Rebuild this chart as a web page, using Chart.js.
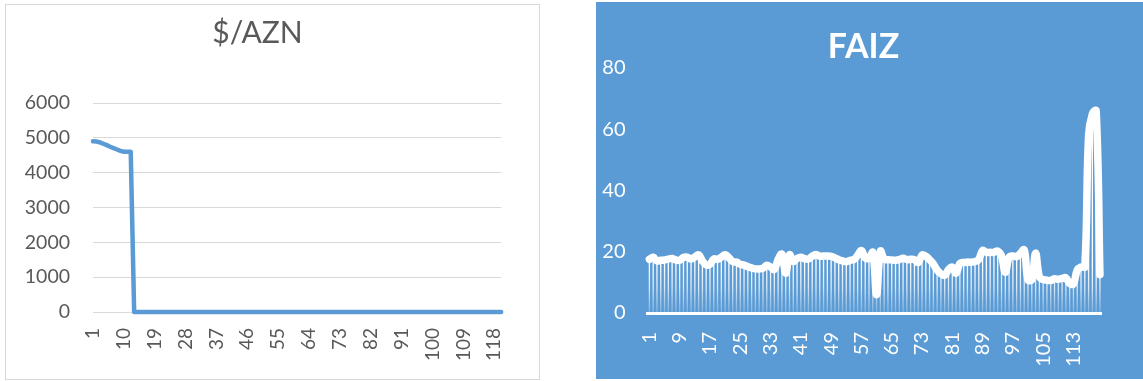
<!DOCTYPE html>
<html>
<head>
<meta charset="utf-8">
<title>$/AZN və FAIZ</title>
<script src="https://cdn.jsdelivr.net/npm/chart.js"></script>
<style>
    body { margin: 0; background: #ffffff; width: 1143px; height: 381px; position: relative; overflow: hidden; }
    .frame { position: absolute; left: 5px; top: 4px; width: 535px; height: 376px; border: 1px solid #d9d9d9; box-sizing: border-box; }
    #aznBox { position: absolute; left: 5px; top: 4px; width: 535px; height: 376px; }
    #faizBox { position: absolute; left: 596px; top: 2px; width: 547px; height: 377px; background: #5b9bd5; }
</style>
</head>
<body>
<div class="frame"></div>
<div id="aznBox"><canvas id="aznChart"></canvas></div>
<div id="faizBox"><canvas id="faizChart"></canvas></div>
<script>
// 1..120 sıra nömrələri
const periods = Array.from({ length: 120 }, (_, i) => String(i + 1));

// dollar məzənnəsi (ilk 12 ay köhnə manatla)
const azn = [
    4900, 4895, 4870, 4830, 4790, 4745, 4705, 4665, 4625, 4600, 4600, 4600,
    0.918, 0.916, 0.912, 0.906, 0.902, 0.898, 0.893, 0.889, 0.885, 0.880, 0.876, 0.871,
    0.870, 0.868, 0.866, 0.864, 0.862, 0.860, 0.858, 0.855, 0.852, 0.850, 0.848, 0.845,
    0.843, 0.838, 0.830, 0.822, 0.815, 0.810, 0.808, 0.806, 0.804, 0.802, 0.801, 0.800,
    0.803, 0.804, 0.804, 0.804, 0.804, 0.804, 0.804, 0.804, 0.804, 0.804, 0.803, 0.803,
    0.803, 0.803, 0.802, 0.802, 0.802, 0.802, 0.801, 0.801, 0.800, 0.799, 0.798, 0.797,
    0.796, 0.795, 0.793, 0.791, 0.789, 0.788, 0.787, 0.786, 0.786, 0.786, 0.786, 0.786,
    0.786, 0.786, 0.786, 0.786, 0.785, 0.785, 0.785, 0.785, 0.785, 0.785, 0.785, 0.785,
    0.785, 0.785, 0.785, 0.784, 0.784, 0.784, 0.784, 0.784, 0.784, 0.784, 0.784, 0.784,
    0.784, 0.784, 0.784, 0.784, 0.784, 0.784, 0.784, 0.784, 0.784, 0.784, 0.784, 0.784
];

// faiz dərəcəsi
const faiz = [
    17.5, 18.2, 17.0, 17.2, 17.3, 17.6, 17.8, 17.3, 17.2, 18.1,
    18.2, 17.6, 18.3, 19.0, 17.0, 15.7, 15.9, 17.6, 17.5, 18.2,
    19.0, 18.0, 16.8, 16.6, 15.9, 15.6, 15.1, 14.7, 14.4, 14.4,
    14.6, 15.6, 15.0, 14.2, 17.5, 19.2, 13.0, 19.0, 16.8, 17.8,
    18.2, 17.7, 17.6, 18.5, 19.1, 18.5, 18.6, 18.6, 18.5, 18.0,
    17.4, 17.0, 16.7, 17.2, 17.4, 18.8, 20.4, 18.0, 17.8, 19.8,
    6.0, 20.2, 17.6, 17.4, 17.3, 17.2, 17.4, 17.9, 17.4, 17.5,
    17.4, 16.5, 18.9, 18.5, 17.4, 16.0, 14.0, 12.8, 12.3, 14.2,
    15.0, 13.0, 16.2, 16.5, 16.6, 16.6, 16.8, 17.5, 20.4, 19.8,
    19.8, 19.8, 20.2, 18.6, 13.3, 18.2, 18.6, 18.4, 19.5, 20.6,
    10.8, 10.9, 19.5, 11.8, 10.9, 10.7, 10.6, 11.2, 11.0, 11.3,
    11.5, 9.6, 9.5, 14.0, 15.0, 15.0, 58.0, 65.0, 66.0, 12.5
];

const aznXTicks = ['1', '10', '19', '28', '37', '46', '55', '64', '73', '82', '91', '100', '109', '118'];
const faizXTicks = ['1', '9', '17', '25', '33', '41', '49', '57', '65', '73', '81', '89', '97', '105', '113'];

Chart.defaults.font.family = 'Lato';
Chart.defaults.animation = false;

// rəqəmləri vergülsüz göstər
function plainNumber(value) {
    return String(value);
}

new Chart(document.getElementById('aznChart'), {
    type: 'line',
    data: {
        labels: periods,
        datasets: [{
            data: azn,
            borderColor: '#5b9bd5',
            borderWidth: 4.5,
            borderCapStyle: 'round',
            borderJoinStyle: 'round',
            pointRadius: 0,
            tension: 0,
            clip: false
        }]
    },
    options: {
        responsive: true,
        maintainAspectRatio: false,
        layout: { padding: { left: 0, right: 30, top: 0, bottom: 0 } },
        plugins: {
            legend: { display: false },
            tooltip: { enabled: false },
            title: {
                display: true,
                text: '$/AZN',
                color: '#595959',
                font: { size: 30, weight: 'normal' },
                padding: { top: 11, bottom: 52 }
            }
        },
        scales: {
            x: {
                offset: false,
                grid: { display: false, drawTicks: false },
                border: { display: false },
                afterFit: function(scale) { scale.height = 68; },
                ticks: {
                    autoSkip: false,
                    maxRotation: 90,
                    minRotation: 90,
                    padding: 16,
                    color: '#595959',
                    font: { size: 19 },
                    callback: function(value, index) {
                        const lbl = periods[index];
                        return aznXTicks.includes(lbl) ? lbl : '';
                    }
                }
            },
            y: {
                min: 0,
                max: 6000,
                grid: { color: '#d9d9d9', lineWidth: 1, drawTicks: false },
                border: { display: false },
                afterFit: function(scale) { scale.width = 88; },
                ticks: {
                    stepSize: 1000,
                    padding: 23,
                    color: '#595959',
                    font: { size: 19.5 },
                    callback: plainNumber
                }
            }
        }
    }
});

// sütunlar üçün yuxarıdan aşağı solğunlaşan ağ rəng
function barFade(context) {
    const chart = context.chart;
    const area = chart.chartArea;
    if (!area) return '#ffffff';
    const top = chart.scales.y.getPixelForValue(16);
    const g = chart.ctx.createLinearGradient(0, area.bottom, 0, top);
    g.addColorStop(0, 'rgba(255,255,255,0.2)');
    g.addColorStop(0.5, 'rgba(255,255,255,0.75)');
    g.addColorStop(1, 'rgba(255,255,255,1)');
    return g;
}

new Chart(document.getElementById('faizChart'), {
    type: 'bar',
    data: {
        labels: periods,
        datasets: [{
            type: 'line',
            data: faiz,
            borderColor: '#ffffff',
            borderWidth: 7.5,
            borderCapStyle: 'round',
            borderJoinStyle: 'round',
            pointRadius: 0,
            tension: 0.4,
            clip: false,
            order: 0
        }, {
            type: 'bar',
            data: faiz,
            backgroundColor: barFade,
            borderWidth: 0,
            barPercentage: 0.35,
            categoryPercentage: 1,
            order: 1
        }]
    },
    options: {
        responsive: true,
        maintainAspectRatio: false,
        layout: { padding: { left: 0, right: 12, top: 0, bottom: 0 } },
        plugins: {
            legend: { display: false },
            tooltip: { enabled: false },
            title: {
                display: true,
                text: 'FAIZ',
                color: '#ffffff',
                font: { size: 34, weight: 'bold' },
                padding: { top: 25, bottom: 0 }
            }
        },
        scales: {
            x: {
                offset: true,
                grid: { display: false, drawTicks: false },
                border: { display: true, color: '#ffffff', width: 3 },
                afterFit: function(scale) { scale.height = 66; },
                ticks: {
                    autoSkip: false,
                    maxRotation: 90,
                    minRotation: 90,
                    padding: 19,
                    color: '#ffffff',
                    font: { size: 20 },
                    callback: function(value, index) {
                        const lbl = periods[index];
                        return faizXTicks.includes(lbl) ? lbl : '';
                    }
                }
            },
            y: {
                min: 0,
                max: 80,
                grid: { display: false, drawTicks: false },
                border: { display: false },
                afterFit: function(scale) { scale.width = 51.5; },
                ticks: {
                    stepSize: 20,
                    padding: 22,
                    color: '#ffffff',
                    font: { size: 20 },
                    callback: plainNumber
                }
            }
        }
    }
});
</script>
</body>
</html>
